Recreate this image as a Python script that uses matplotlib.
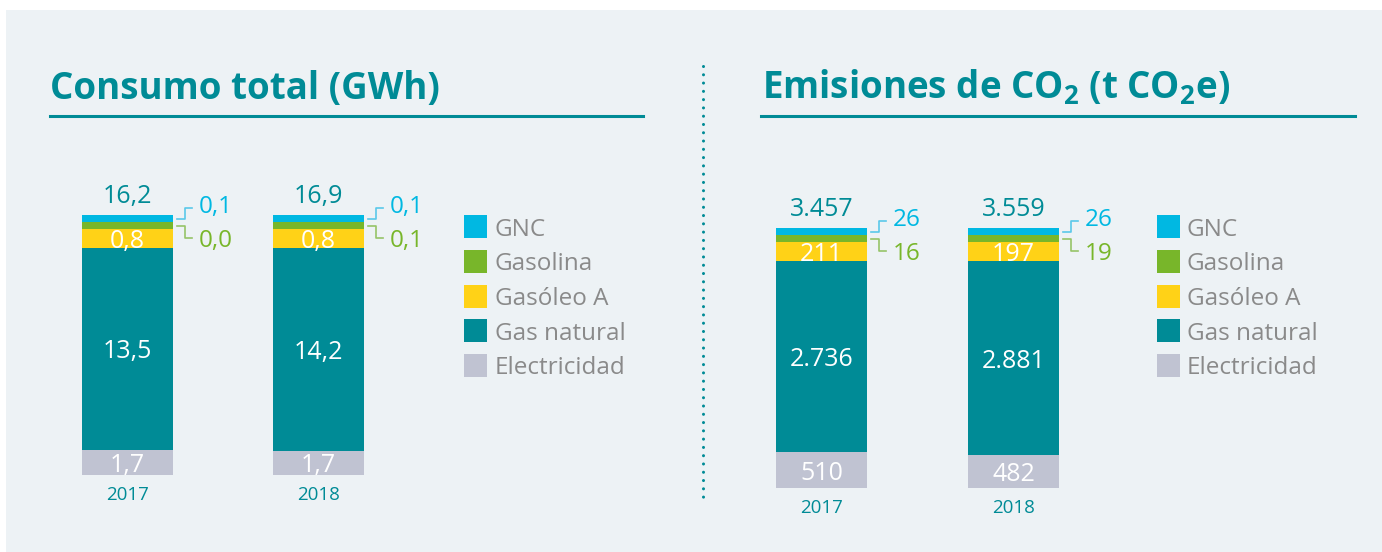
import matplotlib
matplotlib.use("Agg")
import matplotlib.pyplot as plt
from matplotlib.patches import Rectangle
from matplotlib.lines import Line2D

# Data read from the infographic
years = ["2017", "2018"]
series = ["Electricidad", "Gas natural", "Gasóleo A", "Gasolina", "GNC"]  # bottom -> top

consumo_electricidad = [1.7, 1.7]
consumo_gas_natural = [13.5, 14.2]
consumo_gasoleo = [0.8, 0.8]
consumo_gasolina = [0.0, 0.1]
consumo_gnc = [0.1, 0.1]
consumo_total = [16.2, 16.9]

emis_electricidad = [510, 482]
emis_gas_natural = [2736, 2881]
emis_gasoleo = [211, 197]
emis_gasolina = [16, 19]
emis_gnc = [26, 26]
emis_total = [3457, 3559]

COLORS = {
    "GNC": "#00B8E2",
    "Gasolina": "#78B62A",
    "Gasóleo A": "#FFD217",
    "Gas natural": "#008B96",
    "Electricidad": "#C0C3D2",
}
LINE_COLORS = {"GNC": "#5AC8EA", "Gasolina": "#96C468"}
TEAL = "#008B96"
GREY = "#8A8A8A"
PANEL = "#EDF2F5"
FONT = "Open Sans"

# the infographic keeps the tiny segments visible with a minimum share
MIN_SHARE = {"Gasóleo A": 0.073, "Gasolina": 0.027, "GNC": 0.027}

W, H = 1382, 552
plt.rcParams["font.family"] = [FONT, "DejaVu Sans"]
plt.rcParams["mathtext.fontset"] = "custom"
plt.rcParams["mathtext.rm"] = "Open Sans:bold"
plt.rcParams["mathtext.default"] = "regular"


def fx(x):
    return x / W


def fy(y):
    return 1 - y / H


def fmt_dec(v):
    return f"{v:.1f}".replace(".", ",")


def fmt_int(v):
    return f"{v:,}".replace(",", ".")


def display_shares(parts):
    total = sum(parts.values())
    shares = {k: v / total for k, v in parts.items()}
    out = {}
    fixed = 0.0
    for k in MIN_SHARE:
        out[k] = max(shares[k], MIN_SHARE[k])
        fixed += out[k]
    free = [k for k in parts if k not in MIN_SHARE]
    free_sum = sum(shares[k] for k in free)
    for k in free:
        out[k] = shares[k] / free_sum * (1 - fixed)
    return out


def draw_chart(fig, center0, spacing, top_px, bottom_px, data, totals, fmt):
    ax = fig.add_axes([fx(center0 - spacing / 2), fy(bottom_px), fx(2 * spacing), (bottom_px - top_px) / H])
    ax.set_xlim(-0.5, 1.5)
    ax.set_ylim(0, 1)
    ax.axis("off")
    px_x = 1 / spacing
    px_y = 1 / (bottom_px - top_px)
    width = 91 * px_x
    for i in range(len(years)):
        parts = {k: data[k][i] for k in series}
        shares = display_shares(parts)
        bottom = 0.0
        centers = {}
        for k in series:
            ax.bar(i, shares[k], width, bottom=bottom, color=COLORS[k], linewidth=0)
            centers[k] = bottom + shares[k] / 2
            bottom += shares[k]
        for k in ["Electricidad", "Gas natural", "Gasóleo A"]:
            ax.text(i, centers[k], fmt(parts[k]), color="white", fontsize=18,
                    ha="center", va="center_baseline")
        ax.annotate(fmt(totals[i]), (i, 1), xytext=(0, 22 * 0.72), textcoords="offset points",
                    color=TEAL, fontsize=18, ha="center", va="center_baseline")
        ax.annotate(years[i], (i, 0), xytext=(0, -18 * 0.72), textcoords="offset points",
                    color=TEAL, fontsize=13.5, ha="center", va="center_baseline")
        # bracket call-outs for the two tiny segments
        x0 = i + width / 2 + 4 * px_x
        x1 = i + width / 2 + 12 * px_x
        x2 = i + width / 2 + 19 * px_x
        xt = i + width / 2 + 26 * px_x
        for k, d, tshift in [("GNC", 11, 4), ("Gasolina", -12, 0)]:
            y0 = centers[k]
            y1 = y0 + d * px_y
            ax.add_line(Line2D([x0, x1, x1, x2], [y0, y0, y1, y1], color=LINE_COLORS[k],
                               lw=1.2, clip_on=False))
            ax.text(xt, y1 + tshift * px_y, fmt(parts[k]), color=COLORS[k], fontsize=17.5,
                    ha="left", va="center_baseline", clip_on=False)
    return ax


def legend(fig, x_sq, x_txt):
    ys = [226.5, 261.5, 296, 330.5, 365]
    for k, yc in zip(["GNC", "Gasolina", "Gasóleo A", "Gas natural", "Electricidad"], ys):
        fig.add_artist(Rectangle((fx(x_sq), fy(yc + 11.5)), fx(23), 23 / H,
                                 transform=fig.transFigure, color=COLORS[k], lw=0))
        fig.text(fx(x_txt), fy(yc), k, color=GREY, fontsize=17.5, ha="left", va="center_baseline")


fig = plt.figure(figsize=(W / 100, H / 100), dpi=100)
fig.patch.set_facecolor("white")
fig.add_artist(Rectangle((fx(6), 0), 1, fy(10), transform=fig.transFigure, color=PANEL, lw=0,
                         zorder=-10))

# titles and rules
fig.text(fx(50), fy(99), "Consumo total (GWh)", color=TEAL, fontsize=26.5, fontweight="bold",
         ha="left", va="baseline")
fig.text(fx(762), fy(99), r"Emisiones de CO$_2$ (t CO$_2$e)", color=TEAL, fontsize=26.5,
         fontweight="bold", ha="left", va="baseline")
fig.add_artist(Line2D([fx(50), fx(643)], [fy(116), fy(116)], color=TEAL, lw=2.2))
fig.add_artist(Line2D([fx(761), fx(1355)], [fy(116), fy(116)], color=TEAL, lw=2.2))
fig.add_artist(Line2D([fx(703), fx(703)], [fy(66), fy(504)], color=TEAL, lw=2.2,
                      linestyle=(0, (0.01, 2.7)), dash_capstyle="round"))

cons = {"Electricidad": consumo_electricidad, "Gas natural": consumo_gas_natural,
        "Gasóleo A": consumo_gasoleo, "Gasolina": consumo_gasolina, "GNC": consumo_gnc}
emis = {"Electricidad": emis_electricidad, "Gas natural": emis_gas_natural,
        "Gasóleo A": emis_gasoleo, "Gasolina": emis_gasolina, "GNC": emis_gnc}

draw_chart(fig, 127.5, 191, 215, 475, cons, consumo_total, fmt_dec)
draw_chart(fig, 821.5, 192, 228, 488, emis, emis_total, fmt_int)
legend(fig, 464, 495)
legend(fig, 1157, 1187)

fig.savefig("out.png", dpi=100, facecolor=fig.get_facecolor())
